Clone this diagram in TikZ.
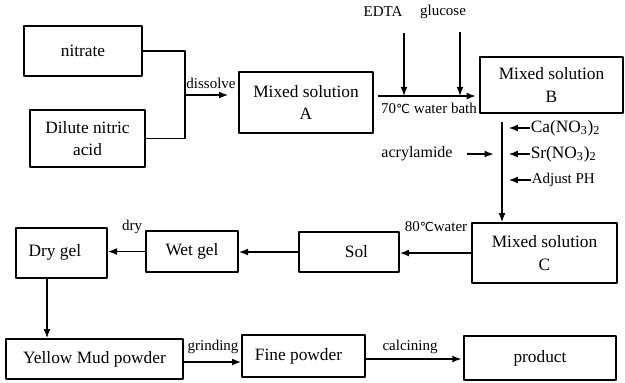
\documentclass[tikz,border=0pt]{standalone}
\usepackage{fontspec}
\setmainfont{Liberation Serif}
\newfontfamily\degfont{DejaVu Sans}
\newcommand{\degC}{{\degfont\fontsize{7.5}{8}\selectfont ℃}}
\usetikzlibrary{arrows.meta}
\begin{document}
\begin{tikzpicture}[>={Latex[length=5.5pt,width=4.2pt]},line join=bevel,x=0.6pt,y=-0.6pt,
  box/.style={draw,line width=1pt,inner sep=0pt,align=center,
    font=\fontsize{10.4}{13.5}\selectfont},
  lbl/.style={inner sep=0pt,font=\fontsize{9}{10}\selectfont},
  every path/.style={line width=0.9pt}]
\useasboundingbox (0,0) rectangle (625,382);
%%
  % Node: nitrate
  \node[box,minimum width=70.8pt,minimum height=30pt] (nitrate) at (83,51) {nitrate};
  % Node: acid
  \node[box,minimum width=69pt,minimum height=34.2pt] (acid) at (87.5,138.5) {Dilute nitric\\acid};
  % Node: mixA
  \node[box,minimum width=80.4pt,minimum height=36.6pt] (mixA) at (306,102.5) {Mixed solution\\A};
  % Node: mixB
  \node[box,minimum width=85.8pt,minimum height=33.6pt] (mixB) at (551.5,85) {Mixed solution\\B};
  % Node: mixC
  \node[box,minimum width=87pt,minimum height=36pt] (mixC) at (544.5,253) {Mixed solution\\C};
  % Node: sol
  \node[box,minimum width=60pt,minimum height=24pt] (sol) at (349,252) {\hspace*{9pt}Sol};
  % Node: wetgel
  \node[box,minimum width=55.2pt,minimum height=24.6pt] (wetgel) at (192,251.5) {Wet gel};
  % Node: drygel
  \node[box,minimum width=54.6pt,minimum height=30pt] (drygel) at (61.5,253) {\raisebox{3pt}{Dry gel\hspace*{8pt}}};
  % Node: yellow
  \node[box,minimum width=106.2pt,minimum height=24pt] (yellow) at (94.5,359) {Yellow Mud powder};
  % Node: fine
  \node[box,minimum width=73.8pt,minimum height=25.2pt] (fine) at (303.5,356) {Fine powder\hspace*{6pt}};
  % Node: product
  \node[box,minimum width=91.2pt,minimum height=26.4pt] (product) at (540,358) {product};
%%
  % Node: edta, glucose
  \node[lbl] (edta) at (383,12) {EDTA};
  \node[lbl] (glucose) at (443,12) {glucose};
  % Node: ca, sr, ph, acryl
  \node[lbl,anchor=west,font=\fontsize{10.4}{12}\selectfont] (ca) at (530,128) {Ca(NO\textsubscript{3})\textsubscript{2}};
  \node[lbl,anchor=west,font=\fontsize{10.4}{12}\selectfont] (sr) at (530,154) {Sr(NO\textsubscript{3})\textsubscript{2}};
  \node[lbl,anchor=west] (ph) at (531,180) {Adjust PH};
  \node[lbl,font=\fontsize{9.6}{11}\selectfont] (acryl) at (417,154) {acrylamide};
  % Node: edge labels
  \node[lbl] (dissolve) at (211,83) {dissolve};
  \node[lbl] (bath) at (429,108) {70\degC\ water bath};
  \node[lbl] (water) at (436,227) {80\degC water};
  \node[lbl] (dry) at (132,227) {dry};
  \node[lbl] (grinding) at (213,347) {grinding};
  \node[lbl] (calcining) at (410,347) {calcining};
%%
  % Edge: nitrate, acid -> mixA
  \coordinate (j) at (185,95);
  \draw (nitrate.east) -| (j);
  \draw (acid.east) -| (j);
  \draw [->,shorten >=6pt] (j) -- (j -| mixA.west);
  % Edge: mixA -> mixB
  \coordinate (ab) at (378,96);
  \draw [->,shorten >=2pt] (ab) -- (ab -| mixB.west);
  % Edge: edta, glucose -> mixA -> mixB
  \coordinate (e1) at (404,33);
  \coordinate (g1) at (460,32);
  \draw [->] (e1) -- (e1 |- ab);
  \draw [->] (g1) -- (g1 |- ab);
  % Edge: mixB -> mixC
  \coordinate (bc) at (502,122);
  \draw [->] (bc) -- (bc |- mixC.north);
  % Edge: ca, sr, ph, acryl -> mixB -> mixC
  \draw [->,shorten >=4pt] (ca.west) -- (ca.west -| bc);
  \draw [->,shorten >=4pt] (sr.west) -- (sr.west -| bc);
  \draw [->,shorten >=4pt] (ph.west) -- (ph.west -| bc);
  \draw [->,shorten <=8pt,shorten >=5pt] (acryl.east) -- (acryl.east -| bc);
  % Edge: mixC -> sol
  \draw [->] (mixC.west) -- (mixC.west -| sol.east);
  % Edge: sol -> wetgel
  \draw [->] (sol.west) -- (sol.west -| wetgel.east);
  % Edge: wetgel -> drygel
  \draw [->] (wetgel.west) -- (wetgel.west -| drygel.east);
  % Edge: drygel -> yellow
  \coordinate (dy) at (47,278);
  \draw [->] (dy) -- (dy |- yellow.north);
  % Edge: yellow -> fine
  \coordinate (yf) at (183,362);
  \draw [->] (yf) -- (yf -| fine.west);
  % Edge: fine -> product
  \coordinate (fp) at (365,359);
  \draw [->,shorten >=1pt] (fp) -- (fp -| product.west);
%
\end{tikzpicture}
\end{document}
